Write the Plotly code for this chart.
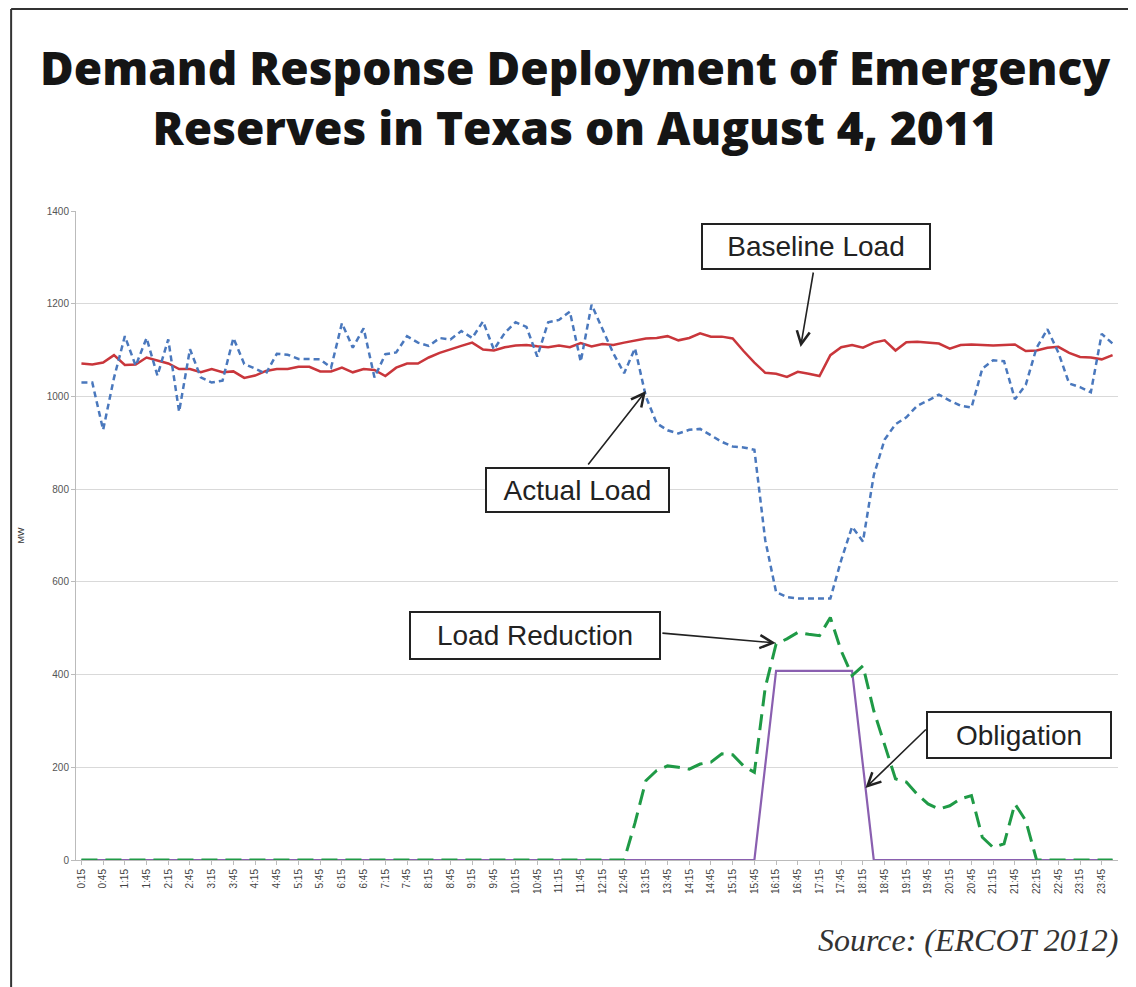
import plotly.graph_objects as go

# 15-minute intervals, 0:15 .. 24:00
times = [f"{(m // 60) % 24}:{m % 60:02d}" for m in range(15, 24 * 60 + 15, 15)]
tick_labels = times[::2]

baseline_load = [
    1071, 1069, 1073, 1089, 1068, 1069, 1084, 1077, 1071, 1059, 1059, 1052,
    1059, 1052, 1054, 1040, 1045, 1055, 1059, 1059, 1064, 1064, 1054, 1054,
    1062, 1052, 1059, 1057, 1044, 1062, 1071, 1071, 1084, 1094, 1102, 1109,
    1116, 1101, 1099, 1106, 1110, 1111, 1108, 1106, 1110, 1106, 1115, 1108,
    1113, 1111, 1116, 1121, 1125, 1126, 1130, 1121, 1126, 1136, 1129, 1129,
    1125, 1098, 1073, 1051, 1049, 1042, 1053, 1049, 1044, 1089, 1106, 1111,
    1105, 1116, 1121, 1099, 1117, 1118, 1116, 1114, 1103, 1111, 1112, 1111,
    1110, 1111, 1112, 1098, 1099, 1105, 1107, 1094, 1085, 1084, 1080, 1089,
]

actual_load = [
    1030, 1030, 928, 1040, 1130, 1066, 1126, 1045, 1123, 967, 1102, 1041,
    1030, 1034, 1126, 1070, 1060, 1049, 1092, 1090, 1081, 1081, 1080, 1062,
    1158, 1105, 1147, 1041, 1091, 1095, 1130, 1116, 1109, 1126, 1123, 1141,
    1126, 1162, 1101, 1137, 1160, 1150, 1086, 1160, 1165, 1183, 1075, 1198,
    1144, 1093, 1050, 1104, 1000, 942, 927, 920, 928, 930, 916, 902,
    892, 890, 885, 690, 578, 567, 564, 564, 564, 564, 647, 719,
    687, 830, 907, 940, 955, 980, 991, 1004, 991, 980, 976, 1060,
    1078, 1076, 994, 1025, 1105, 1145, 1095, 1028, 1020, 1009, 1135, 1114,
]

load_reduction = [0] * 50 + [
    0, 80, 171, 193, 203, 200, 196, 207, 211, 229, 227, 203,
    189, 372, 466, 477, 491, 487, 484, 523, 451, 398, 419, 322,
    250, 175, 168, 142, 121, 110, 117, 132, 139, 49, 27, 35,
    121, 85,
] + [0] * 8

obligation = [0] * 63 + [204, 408, 408, 408, 408, 408, 408, 408, 408, 204] + [0] * 23

# the page body has an 8px margin, so work in page pixels and shift
OFF = 8
W, H = 1136 - OFF, 987 - OFF
L, R, T, B = 74 - OFF, 1118 - OFF, 211 - OFF, 860 - OFF


def px(x, y):
    x, y = x - OFF, y - OFF
    return (x - L) / (R - L), (B - y) / (B - T)


def dx(x):
    return (x - OFF - L) / ((R - L) / 96) - 0.5


def dy(y):
    return (B - (y - OFF)) / ((B - T) / 1400)


fig = go.Figure()
fig.add_trace(go.Scatter(x=times, y=obligation, mode='lines', name='Obligation',
                         line=dict(color='#8a5fb0', width=2.2)))
fig.add_trace(go.Scatter(x=times, y=load_reduction, mode='lines', name='Load Reduction',
                         line=dict(color='#1f9a46', width=3, dash='16px,8px')))
fig.add_trace(go.Scatter(x=times, y=baseline_load, mode='lines', name='Baseline Load',
                         line=dict(color='#c9363b', width=2.5)))
fig.add_trace(go.Scatter(x=times, y=actual_load, mode='lines', name='Actual Load',
                         line=dict(color='#4a78bd', width=2.5, dash='6px,4px')))

annotations = []

# title
xp, yp = px(574, 97)
annotations.append(dict(text='Demand Response Deployment of Emergency<br>Reserves in Texas on August 4, 2011',
                        x=xp, y=yp, xref='paper', yref='paper',
                        xanchor='center', yanchor='middle', showarrow=False,
                        font=dict(family='Open Sans', size=46, color='#151515', weight=800)))

# source
xp, yp = px(1120, 940)
annotations.append(dict(text='Source: (ERCOT 2012)', x=xp, y=yp, xref='paper', yref='paper',
                        xanchor='right', yanchor='middle', showarrow=False,
                        font=dict(family='Liberation Serif', size=32, color='#333333',
                                  style='italic')))

# labelled boxes
boxes = [
    ('Baseline Load', 815, 246, 230, 47),
    ('Actual Load', 576, 490, 185, 46),
    ('Load Reduction', 534, 635, 252, 49),
    ('Obligation', 1019, 735, 186, 48),
]
for text, cx, cy, w, h in boxes:
    xp, yp = px(cx, cy)
    annotations.append(dict(text=text, x=xp, y=yp, xref='paper', yref='paper',
                            xanchor='center', yanchor='middle', showarrow=False,
                            width=w - 4, height=h - 4, borderpad=0,
                            bordercolor='#222222', borderwidth=2, bgcolor='white',
                            font=dict(family='Liberation Sans', size=28, color='#222222')))

# arrows (tail -> head) in page pixels
arrows = [
    ((813, 271), (800, 347)),
    ((586, 466), (645, 391)),
    ((660, 633), (775, 643)),
    ((927, 728), (865, 788)),
]
for (tx, ty), (hx, hy) in arrows:
    annotations.append(dict(text='', x=dx(hx), y=dy(hy), ax=dx(tx), ay=dy(ty),
                            xref='x', yref='y', axref='x', ayref='y',
                            showarrow=True, arrowhead=5, arrowsize=1.6,
                            arrowwidth=1.6, arrowcolor='#222222'))

# outer frame: left and top edges
fx0, fy0 = px(OFF + 1, OFF + 1)
fx1, fy1 = px(1136, 995)
frame = [
    dict(type='line', xref='paper', yref='paper', x0=fx0, x1=fx0, y0=fy0, y1=fy1,
         line=dict(color='#333333', width=2), layer='above'),
    dict(type='line', xref='paper', yref='paper', x0=fx0, x1=fx1, y0=fy0, y1=fy0,
         line=dict(color='#333333', width=2), layer='above'),
]

fig.update_layout(
    width=W, height=H,
    margin=dict(l=L, r=W - R, t=T, b=H - B),
    paper_bgcolor='white', plot_bgcolor='white',
    showlegend=False,
    annotations=annotations,
    shapes=frame,
    font=dict(family='Liberation Sans'),
)
fig.update_xaxes(type='category', categoryorder='array', categoryarray=times,
                 range=[-0.5, 95.5], tickmode='array', tickvals=tick_labels,
                 ticktext=tick_labels, tickangle=-90,
                 tickfont=dict(size=10, color='#444444'),
                 ticks='outside', ticklen=4, tickcolor='#bbbbbb',
                 showgrid=False, showline=True, linecolor='#bbbbbb', linewidth=1,
                 zeroline=False)
fig.update_yaxes(range=[0, 1400], dtick=200, tickfont=dict(size=10, color='#555555'),
                 showgrid=True, gridcolor='#d9d9d9', gridwidth=1,
                 showline=True, linecolor='#bbbbbb', linewidth=1, zeroline=False,
                 ticks='outside', ticklen=4, tickcolor='#bbbbbb',
                 title=dict(text='MW', font=dict(size=9, color='#333333'), standoff=20))

fig.write_html("out.html")
